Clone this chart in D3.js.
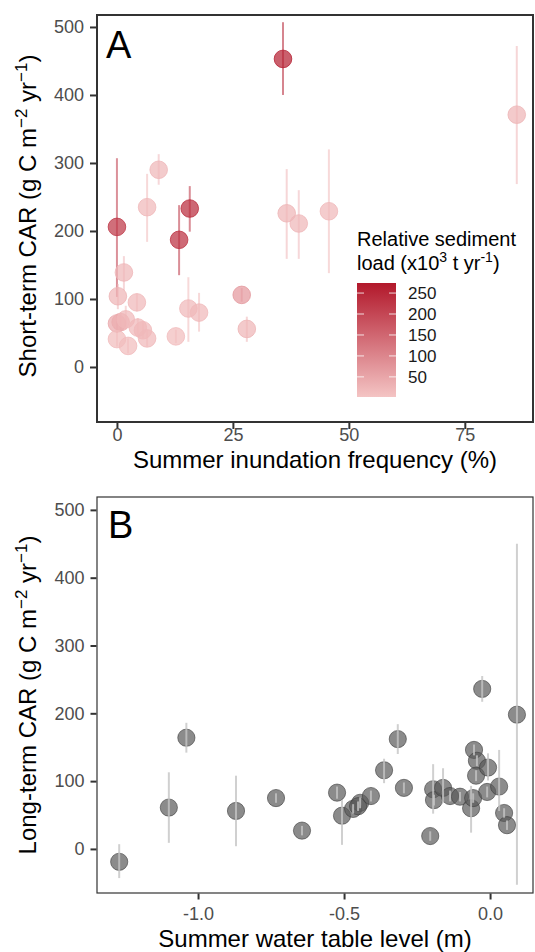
<!DOCTYPE html>
<html lang="en">
<head>
<meta charset="UTF-8">
<title>CAR vs inundation and water table</title>
<script src="https://d3js.org/d3.v7.min.js"></script>
<style>
  body { margin: 0; background: #fff; }
  text { font-family: "Liberation Sans", Arial, sans-serif; }
</style>
</head>
<body>
<script>
// panel A: short-term CAR vs summer inundation frequency
var inundation = [35.8, 86.2, 9.0, 6.5, 15.7, 36.6, 39.2, 45.7, 0.0, 13.4, 1.5, 0.2, 4.3, 15.4, 17.7, 26.9, 28.0, 0.0, 0.8, 1.9, 0.0, 2.4, 4.5, 5.6, 6.5, 12.7];
var shortCar   = [453, 371, 290, 235, 233, 226, 211, 229, 206, 187, 139, 104, 95, 86, 80, 106, 56, 64, 66, 70, 41, 31, 58, 54, 42, 45];
var shortLo    = [400, 269, 268, 184, 199, 159, 159, 138, 103, 135, 113, 85, 82, 37, 52, 96, 37, 50, 52, 55, 30, 20, 45, 42, 30, 35];
var shortHi    = [507, 472, 313, 284, 266, 291, 260, 320, 307, 238, 163, 122, 108, 132, 109, 116, 74, 78, 80, 90, 52, 42, 72, 66, 54, 55];
var sediment   = [260, 25, 22, 20, 240, 25, 22, 20, 225, 235, 22, 25, 20, 20, 20, 70, 25, 45, 40, 20, 15, 15, 20, 20, 20, 15];

// panel B: long-term CAR vs summer water table level
var waterTable = [-1.27, -1.10, -1.04, -0.87, -0.733, -0.644, -0.524, -0.507, -0.469, -0.445, -0.452, -0.408, -0.363, -0.316, -0.295, -0.205, -0.195, -0.192, -0.161, -0.137, -0.103, -0.065, -0.058, -0.055, -0.045, -0.048, -0.027, -0.007, -0.010, 0.031, 0.048, 0.058, 0.092];
var longCar    = [-19, 61, 164, 56, 75, 27, 83, 49, 59, 68, 63, 78, 116, 162, 90, 19, 88, 72, 90, 78, 77, 60, 75, 146, 130, 108, 236, 120, 84, 92, 53, 35, 198];
var longLo     = [-43, 9, 142, 4, 68, 20, 74, 6, 52, 60, 56, 70, 97, 140, 82, 12, 52, 64, 68, 70, 70, 24, 68, 138, 122, 100, 217, 101, 76, 56, 46, 28, -53];
var longHi     = [7, 113, 186, 108, 82, 34, 92, 72, 66, 76, 70, 86, 133, 184, 98, 26, 125, 80, 119, 86, 84, 93, 82, 154, 138, 116, 255, 141, 92, 146, 60, 42, 450];

var yTicks = [0, 100, 200, 300, 400, 500];
var xTicksA = [0, 25, 50, 75];
var xTicksB = [-1.0, -0.5, 0.0];
var legendTicks = [50, 100, 150, 200, 250];

var width = 535, height = 952;

var svg = d3.select('body').append('svg')
    .attr('width', width)
    .attr('height', height);

var color = d3.scaleLinear()
    .domain([2, 274])
    .range(['#f4c4c4', '#b2182b']);

function styleAxis(g, isX, baseline) {
    g.select('.domain').remove();
    g.selectAll('line').attr('stroke', '#333').attr('stroke-width', 2);
    g.selectAll('text').attr('fill', '#4d4d4d').style('font-size', '18px')
        .style('font-family', '"Liberation Sans", Arial, sans-serif');
    if (isX) g.selectAll('text').attr('y', baseline).attr('dy', 0);
}

// ---------- panel A ----------
var xA = d3.scaleLinear().domain([-4.3, 89.7]).range([97, 533]);
var yA = d3.scaleLinear().domain([-80.9, 517.6]).range([422, 15]);

var ptsA = inundation.map(function(d, i) {
    return { x: d, y: shortCar[i], lo: shortLo[i], hi: shortHi[i], load: sediment[i] };
});

var gA = svg.append('g');

gA.selectAll('line.err')
    .data(ptsA).enter().append('line')
    .attr('class', 'err')
    .attr('x1', function(d) { return xA(d.x); })
    .attr('x2', function(d) { return xA(d.x); })
    .attr('y1', function(d) { return yA(d.lo); })
    .attr('y2', function(d) { return yA(d.hi); })
    .attr('stroke', function(d) { return color(d.load); })
    .attr('stroke-opacity', 0.55)
    .attr('stroke-width', 2);

gA.selectAll('circle')
    .data(ptsA).enter().append('circle')
    .attr('cx', function(d) { return xA(d.x); })
    .attr('cy', function(d) { return yA(d.y); })
    .attr('r', 8.8)
    .attr('fill', function(d) { return color(d.load); })
    .attr('fill-opacity', 0.72)
    .attr('stroke', function(d) { return color(d.load); })
    .attr('stroke-opacity', 0.8)
    .attr('stroke-width', 1);

gA.append('rect')
    .attr('x', 97).attr('y', 15)
    .attr('width', 436).attr('height', 407)
    .attr('fill', 'none')
    .attr('stroke', '#333')
    .attr('stroke-width', 2);

var axisYA = d3.axisLeft(yA).tickValues(yTicks).tickSize(6).tickPadding(6);
var axisXA = d3.axisBottom(xA).tickValues(xTicksA).tickSize(6);

var gyA = gA.append('g').attr('transform', 'translate(96,0)').call(axisYA);
var gxA = gA.append('g').attr('transform', 'translate(0,423)').call(axisXA);
styleAxis(gyA, false);
styleAxis(gxA, true, 18);

gA.append('text')
    .attr('x', 106).attr('y', 58)
    .style('font-size', '38px')
    .text('A');

gA.append('text')
    .attr('x', 315).attr('y', 468)
    .attr('text-anchor', 'middle')
    .style('font-size', '24px')
    .text('Summer inundation frequency (%)');

function carTitle(g, label, cy) {
    var t = g.append('text')
        .attr('transform', 'translate(36,' + cy + ') rotate(-90)')
        .attr('text-anchor', 'middle')
        .style('font-size', '24px');
    t.append('tspan').text(label + ' (g C m');
    t.append('tspan').attr('dy', -9).style('font-size', '17px').text('\u22122');
    t.append('tspan').attr('dy', 9).text(' yr');
    t.append('tspan').attr('dy', -9).style('font-size', '17px').text('\u22121');
    t.append('tspan').attr('dy', 9).text(')');
}
carTitle(gA, 'Short-term CAR', 216);

// legend
var legY = d3.scaleLinear().domain([2, 274]).range([397, 283]);
var defs = svg.append('defs');
var grad = defs.append('linearGradient')
    .attr('id', 'sedGrad')
    .attr('x1', 0).attr('y1', 1).attr('x2', 0).attr('y2', 0);
grad.append('stop').attr('offset', '0%').attr('stop-color', color(2));
grad.append('stop').attr('offset', '100%').attr('stop-color', color(274));

var leg = svg.append('g');
leg.append('text')
    .attr('x', 357).attr('y', 246)
    .style('font-size', '20px')
    .text('Relative sediment');
var l2 = leg.append('text').attr('x', 357).attr('y', 270).style('font-size', '20px');
l2.append('tspan').text('load (x10');
l2.append('tspan').attr('dy', -8).style('font-size', '14px').text('3');
l2.append('tspan').attr('dy', 8).text(' t yr');
l2.append('tspan').attr('dy', -8).style('font-size', '14px').text('-1');
l2.append('tspan').attr('dy', 8).text(')');

leg.append('rect')
    .attr('x', 357).attr('y', legY(274))
    .attr('width', 39).attr('height', legY(2) - legY(274))
    .attr('fill', 'url(#sedGrad)');

leg.selectAll('line.tl')
    .data(legendTicks).enter().append('line')
    .attr('x1', 357).attr('x2', 364)
    .attr('y1', function(d) { return legY(d); })
    .attr('y2', function(d) { return legY(d); })
    .attr('stroke', '#fff').attr('stroke-opacity', 0.8);
leg.selectAll('line.tr')
    .data(legendTicks).enter().append('line')
    .attr('x1', 389).attr('x2', 396)
    .attr('y1', function(d) { return legY(d); })
    .attr('y2', function(d) { return legY(d); })
    .attr('stroke', '#fff').attr('stroke-opacity', 0.8);
leg.selectAll('text.lab')
    .data(legendTicks).enter().append('text')
    .attr('class', 'lab')
    .attr('x', 408)
    .attr('y', function(d) { return legY(d) + 6; })
    .attr('fill', '#1a1a1a')
    .style('font-size', '17px')
    .text(function(d) { return d; });

// ---------- panel B ----------
var xB = d3.scaleLinear().domain([-1.346, 0.147]).range([97, 533]);
var yB = d3.scaleLinear().domain([-65, 519]).range([893, 497]);

var ptsB = waterTable.map(function(d, i) {
    return { x: d, y: longCar[i], lo: longLo[i], hi: longHi[i] };
});

var gB = svg.append('g');

gB.selectAll('circle')
    .data(ptsB).enter().append('circle')
    .attr('cx', function(d) { return xB(d.x); })
    .attr('cy', function(d) { return yB(d.y); })
    .attr('r', 8.6)
    .attr('fill', '#5a5a5a')
    .attr('fill-opacity', 0.7)
    .attr('stroke', '#3c3c3c')
    .attr('stroke-opacity', 0.6)
    .attr('stroke-width', 1);

gB.selectAll('line.err')
    .data(ptsB).enter().append('line')
    .attr('class', 'err')
    .attr('x1', function(d) { return xB(d.x); })
    .attr('x2', function(d) { return xB(d.x); })
    .attr('y1', function(d) { return yB(d.lo); })
    .attr('y2', function(d) { return yB(d.hi); })
    .attr('stroke', '#c4c4c4')
    .attr('stroke-opacity', 0.8)
    .attr('stroke-width', 2);

gB.append('rect')
    .attr('x', 97).attr('y', 497)
    .attr('width', 436).attr('height', 396)
    .attr('fill', 'none')
    .attr('stroke', '#333')
    .attr('stroke-width', 1.2);

var fmtB = function(d) { return d3.format('.1f')(d).replace('\u2212', '-'); };
var axisYB = d3.axisLeft(yB).tickValues(yTicks).tickSize(6).tickPadding(6);
var axisXB = d3.axisBottom(xB).tickValues(xTicksB).tickFormat(fmtB).tickSize(6);

var gyB = gB.append('g').attr('transform', 'translate(96.5,0)').call(axisYB);
var gxB = gB.append('g').attr('transform', 'translate(0,893.5)').call(axisXB);
styleAxis(gyB, false);
styleAxis(gxB, true, 26);

gB.append('text')
    .attr('x', 108).attr('y', 538)
    .style('font-size', '38px')
    .text('B');

gB.append('text')
    .attr('x', 315).attr('y', 947)
    .attr('text-anchor', 'middle')
    .style('font-size', '24px')
    .text('Summer water table level (m)');

carTitle(gB, 'Long-term CAR', 695);
</script>
</body>
</html>
